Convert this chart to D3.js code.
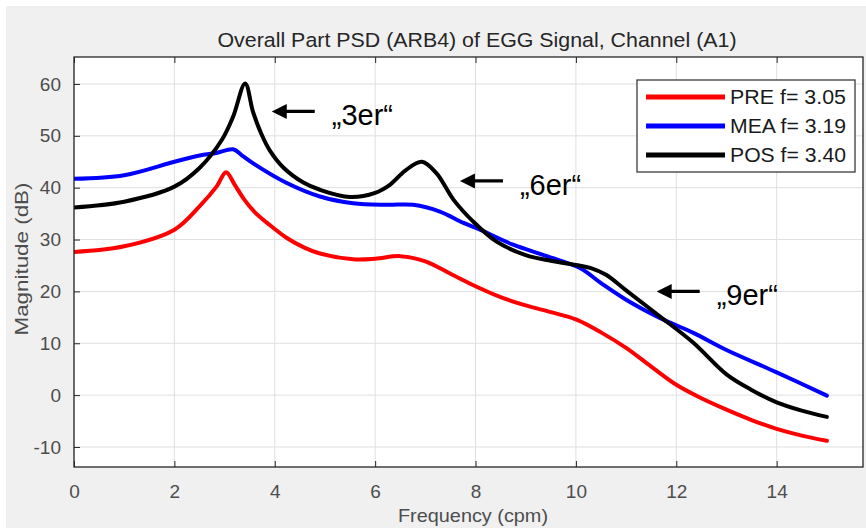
<!DOCTYPE html>
<html>
<head>
<meta charset="utf-8">
<script src="https://cdn.jsdelivr.net/npm/d3@7"></script>
<style>
  html, body { margin: 0; padding: 0; background: #ffffff; }
  svg { display: block; }
  text { font-family: "Liberation Sans", Arial, Helvetica, sans-serif; }
</style>
</head>
<body>
<svg id="chart" width="866" height="528"></svg>
<script>
// ---------------- data ----------------
const chartTitle = "Overall Part PSD (ARB4) of EGG Signal, Channel (A1)";
const xLabel = "Frequency (cpm)";
const yLabel = "Magnitude (dB)";
const xTicks = [0, 2, 4, 6, 8, 10, 12, 14];
const yTicks = [-10, 0, 10, 20, 30, 40, 50, 60];

const seriesNames = ["PRE f= 3.05", "MEA f= 3.19", "POS f= 3.40"];

const preFreq = [0, 1, 2, 2.5, 2.84, 3.03, 3.2, 3.4, 3.6, 3.9, 4.24, 4.6, 4.9, 5.56, 6.0, 6.5, 7.0, 7.5, 8.0, 8.5, 9.0, 9.5, 10.0, 10.5, 11, 11.5, 12, 12.5, 13, 13.5, 14, 14.5, 15];
const preMag  = [27.6, 28.7, 31.9, 36.4, 40.2, 43.0, 40.6, 37.6, 35.3, 32.8, 30.3, 28.4, 27.3, 26.2, 26.3, 26.8, 25.8, 23.4, 21.0, 18.9, 17.3, 16.0, 14.6, 12.1, 9.1, 5.5, 2.0, -0.6, -2.8, -4.8, -6.5, -7.8, -8.8];

const meaFreq = [0, 1, 2, 2.5, 2.84, 3.17, 3.35, 3.57, 4.24, 4.9, 5.56, 6.23, 6.76, 7.29, 7.76, 8.09, 8.75, 9.42, 10.08, 10.5, 11, 11.67, 12.34, 13, 14, 15];
const meaMag  = [41.7, 42.4, 45.0, 46.2, 46.7, 47.4, 46.2, 44.7, 40.9, 38.3, 37.0, 36.7, 36.7, 35.4, 33.2, 31.9, 29.0, 26.8, 24.5, 21.6, 18.4, 14.9, 12.0, 8.7, 4.4, -0.1];

const posFreq = [0, 1, 2, 2.5, 2.95, 3.17, 3.41, 3.57, 3.74, 3.9, 4.17, 4.57, 4.9, 5.5, 6.0, 6.3, 6.6, 6.93, 7.22, 7.56, 7.95, 8.42, 9.0, 9.5, 10.0, 10.3, 10.6, 11, 11.67, 12.34, 13, 13.5, 14, 14.5, 15];
const posMag  = [36.2, 37.3, 40.2, 43.8, 49.3, 53.7, 60.1, 54.5, 50.2, 47.2, 43.9, 41.0, 39.6, 38.2, 39.0, 40.6, 43.3, 45.0, 42.8, 37.7, 33.5, 29.6, 27.0, 25.9, 25.1, 24.5, 23.2, 20.2, 15.2, 10.1, 4.0, 1.0, -1.4, -3.0, -4.2];

const seriesColors = ["#ff0000", "#0000ff", "#000000"];

const annoLabels = ["\u201E3er\u201C", "\u201E6er\u201C", "\u201E9er\u201C"];
const annoFreq = [3.94, 7.69, 11.61];
const annoMag  = [54.7, 41.3, 20.0];

// ---------------- layout ----------------
const W = 866, H = 528;
const plotL = 74, plotR = 863, plotT = 57, plotB = 467;

const svg = d3.select("#chart");

// figure background
svg.append("rect").attr("x", 6).attr("y", 6).attr("width", W - 6).attr("height", H - 6).attr("fill", "#f0f0f0");

const x = d3.scaleLinear().domain([0, 15.72]).range([plotL, plotR]);
const y = d3.scaleLinear().domain([-13.86, 65.2]).range([plotB, plotT]);

// plot area
svg.append("rect").attr("x", plotL).attr("y", plotT)
  .attr("width", plotR - plotL).attr("height", plotB - plotT).attr("fill", "#ffffff");

// grid
const grid = svg.append("g").attr("class", "grid");
grid.selectAll("line.gx").data(xTicks).join("line")
  .attr("x1", d => x(d)).attr("x2", d => x(d))
  .attr("y1", plotT).attr("y2", plotB)
  .attr("stroke", "#dfdfdf").attr("stroke-width", 1);
grid.selectAll("line.gy").data(yTicks).join("line")
  .attr("x1", plotL).attr("x2", plotR)
  .attr("y1", d => y(d)).attr("y2", d => y(d))
  .attr("stroke", "#dfdfdf").attr("stroke-width", 1);

// curves
const series = [
  { name: seriesNames[0], f: preFreq, m: preMag, color: seriesColors[0] },
  { name: seriesNames[1], f: meaFreq, m: meaMag, color: seriesColors[1] },
  { name: seriesNames[2], f: posFreq, m: posMag, color: seriesColors[2] }
];
const line = d3.line().x(d => x(d[0])).y(d => y(d[1])).curve(d3.curveCatmullRom.alpha(0.5));
svg.append("clipPath").attr("id", "pclip").append("rect")
  .attr("x", plotL).attr("y", plotT).attr("width", plotR - plotL).attr("height", plotB - plotT);
const curves = svg.append("g").attr("clip-path", "url(#pclip)");
series.forEach(s => {
  curves.append("path")
    .datum(s.f.map((v, i) => [v, s.m[i]]))
    .attr("d", line)
    .attr("fill", "none")
    .attr("stroke", s.color)
    .attr("stroke-width", 4)
    .attr("stroke-linejoin", "round")
    .attr("stroke-linecap", "round");
});

// axes (MATLAB-style inward ticks)
const axisColor = "#262626";
const tickCol = "#4d4d4d";
const fmt = d => String(d);
const gx = svg.append("g").attr("transform", `translate(0,${plotB})`)
  .call(d3.axisBottom(x).tickValues(xTicks).tickFormat(fmt).tickSizeInner(-6).tickSizeOuter(0).tickPadding(18));
const gxt = svg.append("g").attr("transform", `translate(0,${plotT})`)
  .call(d3.axisTop(x).tickValues(xTicks).tickSizeInner(-6).tickSizeOuter(0).tickFormat(""));
const gy = svg.append("g").attr("transform", `translate(${plotL},0)`)
  .call(d3.axisLeft(y).tickValues(yTicks).tickFormat(fmt).tickSizeInner(-6).tickSizeOuter(0).tickPadding(13));
[gx, gxt, gy].forEach(g => {
  g.select(".domain").remove();
  g.selectAll(".tick line").attr("stroke", axisColor).attr("stroke-width", 1);
  g.selectAll("text").attr("font-size", 19).attr("fill", tickCol)
    .attr("font-family", "Liberation Sans, Arial, sans-serif");
});
gx.selectAll(".tick text").attr("dy", "0.71em");
// box
svg.append("rect").attr("x", plotL).attr("y", plotT)
  .attr("width", plotR - plotL).attr("height", plotB - plotT)
  .attr("fill", "none").attr("stroke", axisColor).attr("stroke-width", 1.3);

// title & labels
svg.append("text").attr("x", 477).attr("y", 47).attr("text-anchor", "middle")
  .attr("font-size", 20.5).attr("fill", "#262626")
  .attr("textLength", 519).attr("lengthAdjust", "spacingAndGlyphs")
  .text(chartTitle);
svg.append("text").attr("x", 473).attr("y", 522).attr("text-anchor", "middle")
  .attr("font-size", 19).attr("fill", tickCol)
  .attr("textLength", 150).attr("lengthAdjust", "spacingAndGlyphs")
  .text(xLabel);
svg.append("text").attr("transform", "translate(28,259) rotate(-90)").attr("text-anchor", "middle")
  .attr("font-size", 19).attr("fill", tickCol)
  .attr("textLength", 153).attr("lengthAdjust", "spacingAndGlyphs")
  .text(yLabel);

// legend
const lg = svg.append("g");
lg.append("rect").attr("x", 637).attr("y", 80).attr("width", 218).attr("height", 92)
  .attr("fill", "#ffffff").attr("stroke", "#3a3a3a").attr("stroke-width", 1.3);
series.forEach((s, i) => {
  const ly = 97 + i * 29;
  lg.append("line").attr("x1", 646).attr("x2", 725).attr("y1", ly).attr("y2", ly)
    .attr("stroke", s.color).attr("stroke-width", 5);
  lg.append("text").attr("x", 730).attr("y", ly).attr("dy", "0.36em")
    .attr("font-size", 20).attr("fill", "#1a1a1a")
    .attr("textLength", 116).attr("lengthAdjust", "spacingAndGlyphs")
    .text(s.name);
});

// annotations
const an = svg.append("g");
annoLabels.forEach((lab, i) => {
  const tx = x(annoFreq[i]), ty = y(annoMag[i]);
  an.append("line").attr("x1", tx + 10).attr("x2", tx + 43).attr("y1", ty).attr("y2", ty)
    .attr("stroke", "#000").attr("stroke-width", 3.2);
  an.append("path")
    .attr("d", `M${tx},${ty} L${tx + 15},${ty - 7.5} L${tx + 15},${ty + 7.5} Z`)
    .attr("fill", "#000");
  an.append("text").attr("x", tx + 60).attr("y", ty + 14)
    .attr("font-size", 29).attr("fill", "#000")
    .attr("font-family", "Liberation Sans, Arial, sans-serif")
    .text(lab);
});
</script>
</body>
</html>
